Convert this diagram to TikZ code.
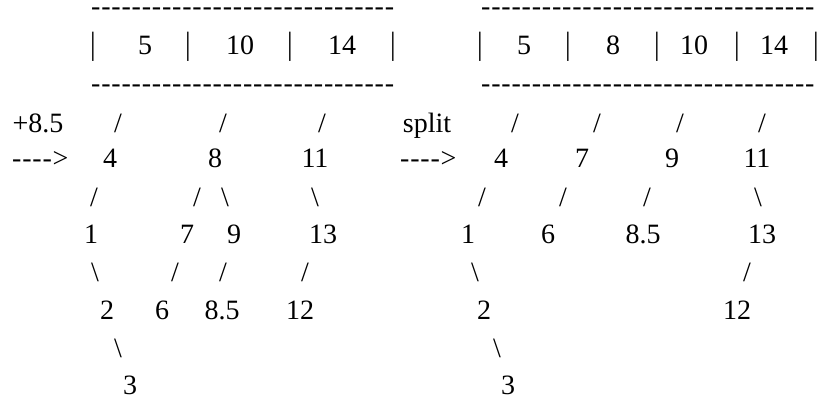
\documentclass[tikz,border=0pt]{standalone}
\usepackage{fontspec}
\newfontfamily\tfont{Liberation Serif}
\newcommand\hy{-\kern0.8pt}
\newcommand\dashrun[1]{\foreach\i in {1,...,#1}{\hy}}
\newcommand\barglyph{\scalebox{1}[1.15]{|}}
\tikzset{
  t/.style={inner sep=0pt, anchor=base, font=\tfont\fontsize{28}{28}\selectfont},
  tw/.style={t, anchor=base west},
}
\begin{document}
\begin{tikzpicture}[x=1pt,y=-1pt]
\useasboundingbox (0,0) rectangle (819,402);
% ---------- left block ----------
\node[tw] (ltop) at (91,15) {\dashrun{30}};
\node[t] (lb1) at (93,54.5) {\barglyph};
\node[t] (lk5) at (145,54.5) {5};
\node[t] (lb2) at (188,54.5) {\barglyph};
\node[t] (lk10) at (240,54.5) {10};
\node[t] (lb3) at (290,54.5) {\barglyph};
\node[t] (lk14) at (342,54.5) {14};
\node[t] (lb4) at (393,54.5) {\barglyph};
\node[tw] (lbot) at (91,92) {\dashrun{30}};
\node[t] (lins) at (38,132.5) {+8.5};
\node[t] (ls1) at (118,132.5) {/};
\node[t] (ls2) at (223,132.5) {/};
\node[t] (ls3) at (322,132.5) {/};
\node[tw] (larr) at (12,167.5) {\hy\hy\hy\hy>};
\node[t] (l4) at (110,167.5) {4};
\node[t] (l8) at (215,167.5) {8};
\node[t] (l11) at (315,167.5) {11};
\node[t] (lc1) at (94,206.5) {/};
\node[t] (lc2) at (197,206.5) {/};
\node[t] (lc3) at (225,206.5) {\textbackslash};
\node[t] (lc4) at (315,206.5) {\textbackslash};
\node[t] (l1) at (91,243.5) {1};
\node[t] (l7) at (187,243.5) {7};
\node[t] (l9) at (234,243.5) {9};
\node[t] (l13) at (323,243.5) {13};
\node[t] (le1) at (95,281.5) {\textbackslash};
\node[t] (le2) at (175,281.5) {/};
\node[t] (le3) at (223,281.5) {/};
\node[t] (le4) at (305,281.5) {/};
\node[t] (l2) at (107,319.5) {2};
\node[t] (l6) at (162,319.5) {6};
\node[t] (l85) at (222,319.5) {8.5};
\node[t] (l12) at (300,319.5) {12};
\node[t] (lg1) at (118,357.5) {\textbackslash};
\node[t] (l3) at (130,394.5) {3};
% ---------- right block ----------
\node[tw] (rtop) at (481,15) {\dashrun{33}};
\node[t] (rb1) at (480,54.5) {\barglyph};
\node[t] (rk5) at (524,54.5) {5};
\node[t] (rb2) at (568,54.5) {\barglyph};
\node[t] (rk8) at (613,54.5) {8};
\node[t] (rb3) at (657,54.5) {\barglyph};
\node[t] (rk10) at (694,54.5) {10};
\node[t] (rb4) at (737,54.5) {\barglyph};
\node[t] (rk14) at (774,54.5) {14};
\node[t] (rb5) at (816,54.5) {\barglyph};
\node[tw] (rbot) at (481,92) {\dashrun{33}};
\node[t] (rsplit) at (427,132.5) {split};
\node[t] (rs1) at (515,132.5) {/};
\node[t] (rs2) at (597,132.5) {/};
\node[t] (rs3) at (680,132.5) {/};
\node[t] (rs4) at (762,132.5) {/};
\node[tw] (rarr) at (400,167.5) {\hy\hy\hy\hy>};
\node[t] (r4) at (501,167.5) {4};
\node[t] (r7) at (582,167.5) {7};
\node[t] (r9) at (672,167.5) {9};
\node[t] (r11) at (757,167.5) {11};
\node[t] (rc1) at (482,206.5) {/};
\node[t] (rc2) at (563,206.5) {/};
\node[t] (rc3) at (647,206.5) {/};
\node[t] (rc4) at (758,206.5) {\textbackslash};
\node[t] (r1) at (468,243.5) {1};
\node[t] (r6) at (548,243.5) {6};
\node[t] (r85) at (643,243.5) {8.5};
\node[t] (r13) at (762,243.5) {13};
\node[t] (re1) at (475,281.5) {\textbackslash};
\node[t] (re2) at (747,281.5) {/};
\node[t] (r2) at (484,319.5) {2};
\node[t] (r12) at (737,319.5) {12};
\node[t] (rg1) at (497,357.5) {\textbackslash};
\node[t] (r3) at (508,394.5) {3};
\end{tikzpicture}
\end{document}
